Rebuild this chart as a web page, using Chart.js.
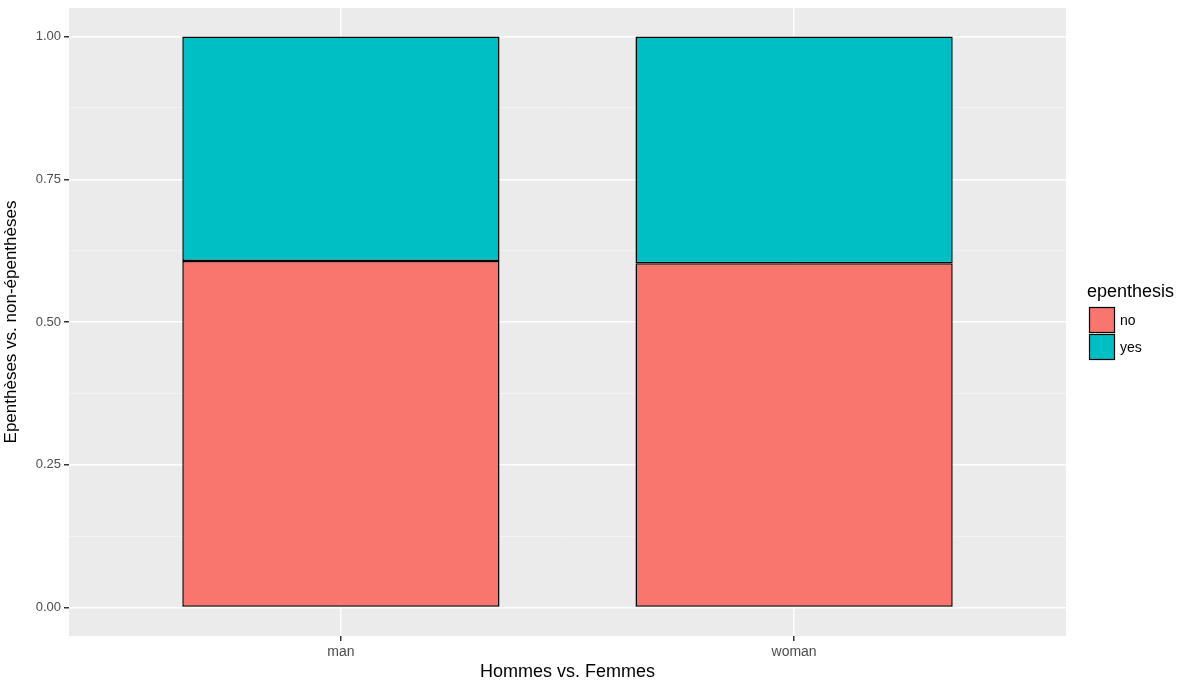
<!DOCTYPE html>
<html>
<head>
<meta charset="utf-8">
<script src="https://cdn.jsdelivr.net/npm/chart.js@4.4.1/dist/chart.umd.min.js"></script>
<style>
  html, body { margin: 0; padding: 0; background: #fff; }
  #wrap { width: 1184px; height: 686px; }
</style>
</head>
<body>
<div id="wrap"><canvas id="mycanvas" width="1184" height="686"></canvas></div>
<script>
var categories = ["man", "woman"];
var categoryPos = [1, 2];
var noValues = [0.607, 0.603];
var yesValues = [0.393, 0.397];
var yMajorTicks = [0, 0.25, 0.5, 0.75, 1];
var yMinorTicks = [0.125, 0.375, 0.625, 0.875];
var seriesNames = ["no", "yes"];

var fontFam = "'Liberation Sans', Arial, sans-serif";

function pts(vals) {
    var out = [];
    for (var i in vals) {
        out.push({ x: categoryPos[i], y: vals[i] });
    }
    return out;
}

// grey panel behind the plot
var panelBg = {
    id: 'panelBg',
    beforeDraw: function(chart) {
        var a = chart.chartArea, ctx = chart.ctx;
        ctx.save();
        ctx.fillStyle = '#EBEBEB';
        ctx.fillRect(a.left, a.top, a.right - a.left, a.bottom - a.top);
        ctx.restore();
    }
};

// ggplot-like legend at the right
var ggLegend = {
    id: 'ggLegend',
    afterDraw: function(chart) {
        var ctx = chart.ctx;
        ctx.save();
        ctx.fillStyle = '#000';
        ctx.font = '18px ' + fontFam;
        ctx.textBaseline = 'middle';
        ctx.textAlign = 'left';
        ctx.fillText('epenthesis', 1087, 292);
        var ds = chart.data.datasets;
        for (var i = 0; i < ds.length; i++) {
            var y = 307 + i * 27;
            ctx.fillStyle = ds[i].backgroundColor;
            ctx.fillRect(1089, y, 26, 26);
            ctx.strokeStyle = '#000';
            ctx.lineWidth = 1.2;
            ctx.strokeRect(1089.5, y + 0.5, 25, 25);
            ctx.fillStyle = '#000';
            ctx.font = '14px ' + fontFam;
            ctx.fillText(ds[i].label, 1120, y + 14);
        }
        ctx.restore();
    }
};

var ctx = document.getElementById('mycanvas');

var chart = new Chart(ctx, {
    type: 'bar',
    data: {
        datasets: [{
            label: seriesNames[0],
            data: pts(noValues),
            backgroundColor: '#F8766D',
            borderColor: '#000',
            borderWidth: 1.5,
            borderSkipped: false
        }, {
            label: seriesNames[1],
            data: pts(yesValues),
            backgroundColor: '#00BFC4',
            borderColor: '#000',
            borderWidth: 1.5,
            borderSkipped: false
        }]
    },
    plugins: [panelBg, ggLegend],
    options: {
        responsive: false,
        animation: false,
        barPercentage: 0.7,
        categoryPercentage: 1,
        layout: { padding: { top: 8, right: 118, left: 0, bottom: 0 } },
        plugins: {
            legend: { display: false },
            tooltip: { enabled: false }
        },
        scales: {
            x: {
                type: 'linear',
                stacked: true,
                offset: false,
                min: 0.4,
                max: 2.6,
                afterBuildTicks: function(scale) {
                    scale.ticks = categoryPos.map(function(v) { return { value: v }; });
                },
                afterFit: function(scale) {
                    scale.height = 50;
                    scale.paddingLeft = 0;
                    scale.paddingRight = 0;
                },
                ticks: {
                    callback: function(v) { return categories[categoryPos.indexOf(v)]; },
                    color: '#4D4D4D',
                    font: { family: fontFam, size: 14 },
                    padding: 3,
                    maxRotation: 0
                },
                grid: {
                    offset: false,
                    color: '#FFFFFF',
                    lineWidth: 1.5,
                    tickColor: '#333333',
                    tickLength: 5
                },
                border: { display: false },
                title: {
                    display: true,
                    text: 'Hommes vs. Femmes',
                    color: '#000',
                    font: { family: fontFam, size: 18 },
                    padding: { top: 4, bottom: 3 }
                }
            },
            y: {
                stacked: true,
                min: -0.05,
                max: 1.05,
                afterBuildTicks: function(scale) {
                    var t = yMajorTicks.concat(yMinorTicks).sort(function(a, b) { return a - b; });
                    scale.ticks = t.map(function(v) { return { value: v }; });
                },
                afterFit: function(scale) {
                    scale.width = 69;
                    scale.paddingTop = 0;
                    scale.paddingBottom = 0;
                },
                ticks: {
                    callback: function(v) {
                        return yMajorTicks.indexOf(v) >= 0 ? v.toFixed(2) : '';
                    },
                    color: '#4D4D4D',
                    font: { family: fontFam, size: 13 },
                    padding: 3
                },
                grid: {
                    color: function(c) {
                        return yMajorTicks.indexOf(c.tick.value) >= 0 ? '#FFFFFF' : '#F5F5F5';
                    },
                    lineWidth: function(c) {
                        return yMajorTicks.indexOf(c.tick.value) >= 0 ? 1.5 : 0.8;
                    },
                    tickColor: function(c) {
                        return yMajorTicks.indexOf(c.tick.value) >= 0 ? '#333333' : 'rgba(0,0,0,0)';
                    },
                    tickLength: 5
                },
                border: { display: false },
                title: {
                    display: true,
                    text: 'Epenthèses vs. non-épenthèses',
                    color: '#000',
                    font: { family: fontFam, size: 17 },
                    padding: { top: 1, bottom: 4 }
                }
            }
        }
    }
});
</script>
</body>
</html>
